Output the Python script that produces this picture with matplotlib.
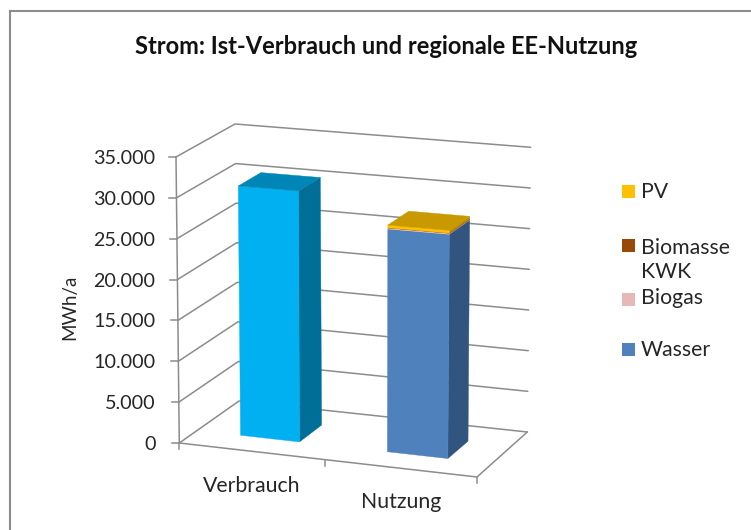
import matplotlib
matplotlib.use("Agg")
import matplotlib.pyplot as plt
from matplotlib.patches import Polygon, Rectangle

plt.rcParams['font.family'] = ['Lato', 'DejaVu Sans']

categories = ['Verbrauch', 'Nutzung']
verbrauch = [30650, 0]
wasser = [0, 26950]
biogas = [0, 130]
biomasse = [0, 10]
pv = [0, 330]
value_ticks = [0, 5000, 10000, 15000, 20000, 25000, 30000, 35000]
tick_labels = ['0', '5.000', '10.000', '15.000', '20.000', '25.000', '30.000', '35.000']
legend_labels = ['PV', 'Biomasse\nKWK', 'Biogas', 'Wasser']
legend_colors = ['#FFC000', '#984807', '#E6B9B8', '#4F81BD']
y_max = 35000

W, H = 751, 530
fig = plt.figure(figsize=(W / 100, H / 100), dpi=100)
ax = fig.add_axes([0, 0, 1, 1])
ax.set_xlim(0, W)
ax.set_ylim(H, 0)
ax.axis('off')

# 3D box corners in image space: (u, v, w) = category, value, depth
C = {(0, 0, 0): (179.3, 443), (0, 1, 0): (176, 157),
     (0, 0, 1): (239, 401), (0, 1, 1): (235, 124),
     (1, 0, 0): (477, 477), (1, 1, 0): (479.5, 181),
     (1, 0, 1): (527.3, 432), (1, 1, 1): (530.7, 147.3)}


def proj(u, val, w):
    v = val / y_max
    x = y = 0.0
    for (a, b, c), (px, py) in C.items():
        k = (u if a else 1 - u) * (v if b else 1 - v) * (w if c else 1 - w)
        x += k * px
        y += k * py
    return x, y


grid = '#8C8C8C'
lw = 1.1
for t in value_ticks:
    pts = [proj(0, t, 0), proj(0, t, 1), proj(1, t, 1)]
    ax.plot(*zip(*pts), color=grid, lw=lw, solid_capstyle='round', zorder=1)
    x0, y0 = proj(0, t, 0)
    ax.plot([x0 - 7, x0], [y0, y0], color=grid, lw=lw, zorder=1)

ax.plot(*zip(proj(0, 0, 0), proj(0, y_max, 0)), color=grid, lw=lw, zorder=1)
ax.plot(*zip(proj(0, 0, 0), proj(1, 0, 0), proj(1, 0, 1)), color=grid, lw=lw, zorder=1)
for u in (0, 0.49, 1):
    x0, y0 = proj(u, 0, 0)
    ax.plot([x0, x0], [y0, y0 + 6], color=grid, lw=lw, zorder=1)


def box(u0, u1, w0, w1, base, top, front, side, cap=None):
    ax.add_patch(Polygon([proj(u1, base, w0), proj(u1, base, w1), proj(u1, top, w1), proj(u1, top, w0)],
                         fc=side, ec=side, lw=0.3, zorder=3))
    ax.add_patch(Polygon([proj(u0, base, w0), proj(u1, base, w0), proj(u1, top, w0), proj(u0, top, w0)],
                         fc=front, ec=front, lw=0.3, zorder=3))
    if cap:
        ax.add_patch(Polygon([proj(u0, top, w0), proj(u1, top, w0), proj(u1, top, w1), proj(u0, top, w1)],
                             fc=cap, ec=cap, lw=0.3, zorder=4))


W0, W1 = 0.30, 0.69
# Verbrauch column
box(0.147, 0.347, W0, W1, 0, verbrauch[0], '#00B0F0', '#006F98', '#0086B6')
# Nutzung stack
u0, u1 = 0.645, 0.85
b = 0
series = [(wasser[1], '#4F81BD', '#325580'), (biogas[1], '#E6B9B8', '#B08C8B'),
          (biomasse[1], '#984807', '#6C3305'), (pv[1], '#FFC000', '#BD8E00')]
for val, fr, si in series:
    box(u0, u1, W0, W1, b, b + val, fr, si)
    b += val
ax.add_patch(Polygon([proj(u0, b, W0), proj(u1, b, W0), proj(u1, b, W1), proj(u0, b, W1)],
                     fc='#C89900', ec='#C89900', lw=0.3, zorder=4))

txt = '#262626'
for t, lab in zip(value_ticks, tick_labels):
    x0, y0 = proj(0, t, 0)
    ax.text(155.5, y0 + 1.5, lab, ha='right', va='center', fontsize=14.2, color=txt)

ax.text(252, 485.5, categories[0], ha='center', va='center', fontsize=15.3, color=txt)
ax.text(401, 502, categories[1], ha='center', va='center', fontsize=15.3, color=txt)
ax.text(70, 307, 'MWh/a', rotation=90, ha='center', va='center', fontsize=13.5, color=txt)
ax.text(386, 46, 'Strom: Ist-Verbrauch und regionale EE-Nutzung', ha='center', va='center',
        fontsize=17, fontweight='bold', color='#111111')

for lab, col, sy, ty in zip(legend_labels, legend_colors, [191, 245, 299, 349], [192, 259.5, 298, 350]):
    ax.add_patch(Rectangle((622, sy - 6.5), 13, 13, fc=col, ec='none'))
    ax.text(641, ty, lab, ha='left', va='center', fontsize=15.3, color=txt, linespacing=1.25)

# chart frame
ax.plot([9.5, 9.5], [H, 10.5], color='#8C8C8C', lw=1.5)
ax.plot([9.5, W], [10.5, 10.5], color='#8C8C8C', lw=1.5)

fig.savefig('out.png', dpi=100)
